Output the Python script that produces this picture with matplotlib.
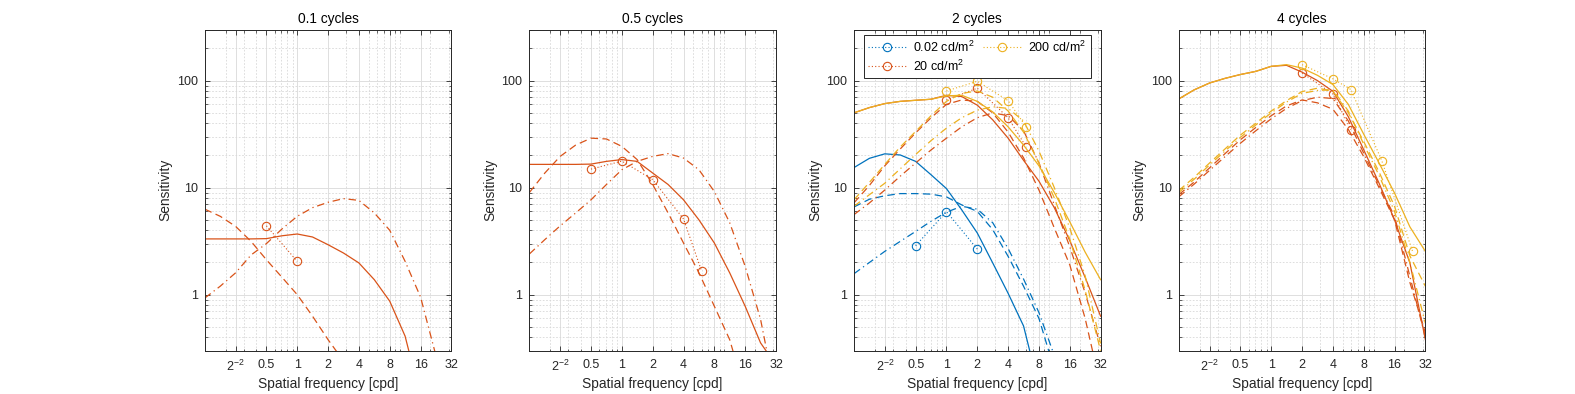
import numpy as np
import matplotlib
matplotlib.use("Agg")
import matplotlib.pyplot as plt
from matplotlib.ticker import FixedLocator, FixedFormatter, LogLocator, NullFormatter

# ===============================
# Data
# ===============================

# half-octave frequency grid used for the model curves [cpd]
FREQ = [0.125, 0.177, 0.25, 0.354, 0.5, 0.707, 1, 1.41, 2, 2.83, 4, 5.66, 8, 11.3, 16, 22.6, 32]

TITLES = ["0.1 cycles", "0.5 cycles", "2 cycles", "4 cycles"]
LUM_LABELS = ["0.02 cd/m$^2$", "20 cd/m$^2$", "200 cd/m$^2$"]
COLORS = ["#0072BD", "#D95319", "#EDB120"]

# --- 0.1 cycles, 20 cd/m2
p1_orange_solid = [3.32, 3.32, 3.32, 3.32, 3.34, 3.55, 3.69, 3.46, 2.93, 2.45, 1.98, 1.38, 0.87, 0.41, 0.11, 0.05, 0.02]
p1_orange_dash = [6.3, 5.4, 4.35, 3.15, 2.12, 1.46, 1.0, 0.63, 0.38, 0.24, 0.1, 0.05, 0.02, 0.01, 0.01, 0.01, 0.01]
p1_orange_dashdot = [0.93, 1.2, 1.6, 2.35, 3.0, 4.1, 5.4, 6.5, 7.3, 7.9, 7.6, 5.8, 4.0, 2.05, 0.95, 0.27, 0.05]
p1_orange_f = [0.5, 1]
p1_orange_s = [4.4, 2.05]

# --- 0.5 cycles, 20 cd/m2
p2_orange_solid = [16.5, 16.5, 16.5, 16.5, 16.6, 17.6, 18.3, 17.6, 13.7, 10.7, 7.7, 5.0, 3.04, 1.6, 0.78, 0.355, 0.22]
p2_orange_dash = [9.0, 13.7, 19.6, 25, 29, 28.5, 24.3, 18.3, 10.7, 5.8, 3.04, 1.6, 0.78, 0.38, 0.12, 0.05, 0.02]
p2_orange_dashdot = [2.4, 3.27, 4.4, 5.8, 7.7, 10.7, 14.7, 17.6, 19.6, 20.8, 18.9, 14.7, 9.2, 4.7, 1.84, 0.59, 0.11]
p2_orange_f = [0.5, 1, 2, 4, 6]
p2_orange_s = [14.9, 17.7, 11.9, 5.1, 1.67]

# --- 2 cycles
p3_blue_solid = [15.4, 18.8, 20.7, 20.2, 17.6, 13.2, 9.8, 6.2, 3.77, 1.98, 1.03, 0.51, 0.135, 0.03, 0.01, 0.01, 0.01]
p3_blue_dash = [6.6, 7.8, 8.4, 8.8, 8.8, 8.7, 8.2, 6.9, 6.0, 4.05, 2.28, 1.2, 0.6, 0.2, 0.05, 0.01, 0.01]
p3_blue_dashdot = [1.57, 2.0, 2.54, 3.15, 3.9, 4.85, 5.9, 6.7, 6.3, 4.7, 2.7, 1.4, 0.68, 0.27, 0.05, 0.01, 0.01]
p3_blue_f = [0.5, 1, 2]
p3_blue_s = [2.87, 5.97, 2.67]

p3_orange_solid = [50, 56, 61, 64, 65.5, 67, 73, 71, 59, 43, 29, 18, 11.5, 6.5, 3.2, 1.45, 0.63]
p3_orange_dash = [7.2, 10.5, 16, 23, 32.5, 45, 60, 66, 64, 50, 33, 19, 9.5, 4.2, 1.9, 0.6, 0.14]
p3_orange_dashdot = [5.6, 7.2, 9.5, 12.8, 17, 22.5, 29, 37, 45, 50, 47, 34, 17, 6.9, 2.8, 1.04, 0.33]
p3_orange_f = [1, 2, 4, 6]
p3_orange_s = [66, 85, 45, 24]

p3_yellow_solid = [50, 56, 61, 64, 65.5, 67, 72, 73, 64, 51, 37, 25, 16, 9, 4.8, 2.5, 1.38]
p3_yellow_dash = [7.7, 11.2, 16.5, 24, 33.5, 47, 64, 76, 80, 70, 52, 33, 17, 8, 3.3, 1.1, 0.3]
p3_yellow_dashdot = [6.7, 8.6, 11, 15, 20.4, 27.5, 36, 45, 53, 57, 55, 42, 22, 10, 4.2, 1.5, 0.35]
p3_yellow_f = [1, 2, 4, 6]
p3_yellow_s = [80, 98.6, 65, 36.9]

# --- 4 cycles
p4_orange_solid = [67.4, 82, 95, 105, 114, 122, 136, 139, 120, 100, 79.5, 46, 22.6, 11, 5.0, 1.98, 0.38]
p4_orange_dash = [8.6, 11.3, 15.3, 20.8, 28, 36.5, 47, 58, 66, 62, 54, 35, 19.5, 10, 5.0, 1.3, 0.44]
p4_orange_dashdot = [8.2, 10.8, 14.5, 19.5, 26, 34, 44, 55, 65, 70, 68, 42, 21, 10.5, 5.4, 1.48, 0.4]
p4_orange_f = [2, 4, 6]
p4_orange_s = [118, 75, 34.8]

p4_yellow_solid = [67.4, 82, 95, 105, 114, 122, 136, 141, 131, 112, 92, 60, 31.6, 17, 8.9, 4.3, 2.54]
p4_yellow_dash = [9.4, 12.5, 17, 23, 31, 40, 52, 65, 79, 85, 80, 50, 27, 14, 6.7, 2.3, 1.2]
p4_yellow_dashdot = [9.0, 12, 16.3, 22, 29.5, 38.5, 50, 63, 76, 81, 82, 52, 25.5, 13, 6.0, 2.0, 0.54]
p4_yellow_f = [2, 4, 6, 12, 24]
p4_yellow_s = [141, 104, 82.5, 17.9, 2.54]

# panel -> list of (luminance index, solid, dashed, dashdot, data f, data s)
PANELS = [
    [(1, p1_orange_solid, p1_orange_dash, p1_orange_dashdot, p1_orange_f, p1_orange_s)],
    [(1, p2_orange_solid, p2_orange_dash, p2_orange_dashdot, p2_orange_f, p2_orange_s)],
    [(0, p3_blue_solid, p3_blue_dash, p3_blue_dashdot, p3_blue_f, p3_blue_s),
     (1, p3_orange_solid, p3_orange_dash, p3_orange_dashdot, p3_orange_f, p3_orange_s),
     (2, p3_yellow_solid, p3_yellow_dash, p3_yellow_dashdot, p3_yellow_f, p3_yellow_s)],
    [(1, p4_orange_solid, p4_orange_dash, p4_orange_dashdot, p4_orange_f, p4_orange_s),
     (2, p4_yellow_solid, p4_yellow_dash, p4_yellow_dashdot, p4_yellow_f, p4_yellow_s)],
]

XTICKS = [0.25, 0.5, 1, 2, 4, 8, 16, 32]
XTICKLABELS = ["$2^{-2}$", "0.5", "1", "2", "4", "8", "16", "32"]
YTICKS = [1, 10, 100]
YTICKLABELS = ["1", "10", "100"]

# ===============================
# Style
# ===============================

plt.rcParams["font.family"] = ["Liberation Sans", "DejaVu Sans"]
plt.rcParams["mathtext.fontset"] = "custom"
plt.rcParams["mathtext.rm"] = "Liberation Sans"
plt.rcParams["mathtext.it"] = "Liberation Sans"
plt.rcParams["mathtext.default"] = "rm"

AX_COLOR = "#262626"
DASH = (0, (6, 3.5))
DASHDOT = (0, (6, 3, 1, 3))
DOT = (0, (1, 2))

fig = plt.figure(figsize=(15.75, 3.94), dpi=100)
lefts = [0.13, 0.3361, 0.5422, 0.7484]

for k, curves in enumerate(PANELS):
    ax = fig.add_axes([lefts[k], 0.11, 0.1566, 0.815])
    ax.set_xscale("log")
    ax.set_yscale("log")

    handles = {}
    for lum, solid, dash, dashdot, df, ds in curves:
        c = COLORS[lum]
        h, = ax.plot(df, ds, linestyle=DOT, marker="o", markersize=6,
                     markerfacecolor="none", markeredgewidth=0.8, color=c, lw=0.8)
        handles[lum] = h
        ax.plot(FREQ, solid, "-", color=c, lw=0.9)
        ax.plot(FREQ, dash, linestyle=DASH, color=c, lw=0.9)
        ax.plot(FREQ, dashdot, linestyle=DASHDOT, color=c, lw=0.9)

    ax.set_xlim(0.125, 32)
    ax.set_ylim(0.3, 300)

    ax.xaxis.set_major_locator(FixedLocator(XTICKS))
    ax.xaxis.set_major_formatter(FixedFormatter(XTICKLABELS))
    ax.xaxis.set_minor_locator(LogLocator(base=10, subs=np.arange(1, 10), numticks=30))
    ax.xaxis.set_minor_formatter(NullFormatter())
    ax.yaxis.set_major_locator(FixedLocator(YTICKS))
    ax.yaxis.set_major_formatter(FixedFormatter(YTICKLABELS))
    ax.yaxis.set_minor_locator(LogLocator(base=10, subs=np.arange(2, 10), numticks=30))
    ax.yaxis.set_minor_formatter(NullFormatter())

    ax.set_axisbelow(True)
    ax.grid(True, which="major", color="#dedede", lw=0.7, ls="-")
    ax.grid(True, which="minor", color="#d8d8d8", lw=0.6, ls=(0, (2, 2)))

    ax.tick_params(which="both", direction="in", top=True, right=True,
                   colors=AX_COLOR, labelsize=9, pad=5)
    ax.tick_params(axis="x", which="major", pad=6)
    ax.tick_params(which="major", length=3.5, width=0.6)
    ax.tick_params(which="minor", length=1.8, width=0.5)
    for sp in ax.spines.values():
        sp.set_color(AX_COLOR)
        sp.set_linewidth(0.7)

    ax.set_title(TITLES[k], fontsize=9.9, color="black", pad=5)
    ax.set_xlabel("Spatial frequency [cpd]", fontsize=9.9, color=AX_COLOR, labelpad=2)
    ax.set_ylabel("Sensitivity", fontsize=9.9, color=AX_COLOR, labelpad=3)

    if k == 2:
        leg = ax.legend([handles[0], handles[1], handles[2]], LUM_LABELS,
                        loc="upper center", ncol=2, fontsize=9, frameon=True,
                        fancybox=False, framealpha=1, edgecolor=AX_COLOR,
                        borderaxespad=0.45, handlelength=3.0, handletextpad=0.6,
                        columnspacing=0.7, labelspacing=0.3, borderpad=0.35,
                        numpoints=1)
        leg.get_frame().set_linewidth(0.7)

fig.savefig("out.png", dpi=100)
